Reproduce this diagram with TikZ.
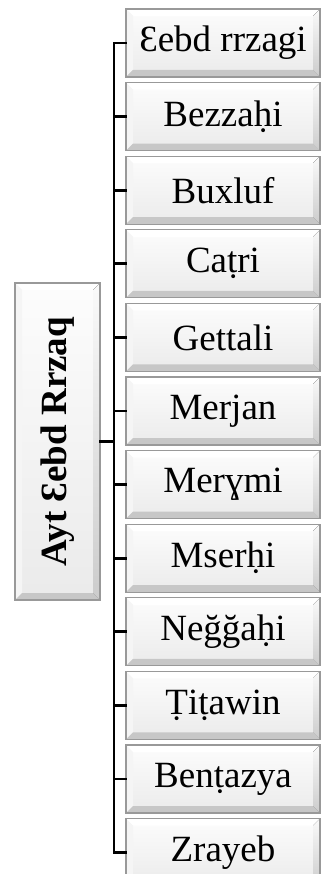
\documentclass[tikz,border=0pt]{standalone}
\usepackage{fontspec}
\usepackage{graphicx}
\setmainfont{Liberation Serif}
\def\bv{7pt}
\tikzset{
  bevel/.style={rectangle, inner sep=0pt, draw=black!40, line width=1.3pt,
    font=\fontsize{37}{44}\selectfont,
    path picture={
      \path (path picture bounding box.south west) coordinate (sw)
            (path picture bounding box.north east) coordinate (ne)
            (path picture bounding box.north west) coordinate (nw)
            (path picture bounding box.south east) coordinate (se);
      \fill[top color=black!1, bottom color=black!8] (sw) rectangle (ne);
      \fill[white] (nw) -- (ne) -- ([shift={(-\bv,-\bv)}]ne) -- ([shift={(\bv,-\bv)}]nw) -- cycle;
      \fill[black!4] (nw) -- ([shift={(\bv,-\bv)}]nw) -- ([shift={(\bv,\bv)}]sw) -- (sw) -- cycle;
      \fill[top color=black!2, bottom color=black!20] (ne) -- (se) -- ([shift={(-\bv,\bv)}]se) -- ([shift={(-\bv,-\bv)}]ne) -- cycle;
      \fill[black!22] (sw) -- (se) -- ([shift={(-\bv,\bv)}]se) -- ([shift={(\bv,\bv)}]sw) -- cycle;
    }},
  leaf/.style={bevel, minimum width=194, minimum height=68},
  conn/.style={draw=black, line width=2.8pt, line cap=rect}
}
\begin{document}
\begin{tikzpicture}[x=1pt,y=-1pt]
\useasboundingbox (0,0) rectangle (325,874);
\node[bevel, minimum width=85, minimum height=317] (root) at (57.5,441.5)
  {\rotatebox{90}{\bfseries Ayt Ɛebd Rrzaq}};
\coordinate (trunk) at (114,441.5);
\foreach \t [count=\i from 0] in {Ɛebd rrzagi, Bezzaḥi, Buxluf, Caṭri, Gettali, Merjan, Merɣmi, Mserḥi, Neğğaḥi, Ṭiṭawin, Benṭazya, Zrayeb} {
  \node[leaf] (b\i) at (223,43+73.6*\i) {\t};
  \draw[conn] (root.east) -- (root.east -| trunk) |- (b\i.west);
}
\end{tikzpicture}
\end{document}
